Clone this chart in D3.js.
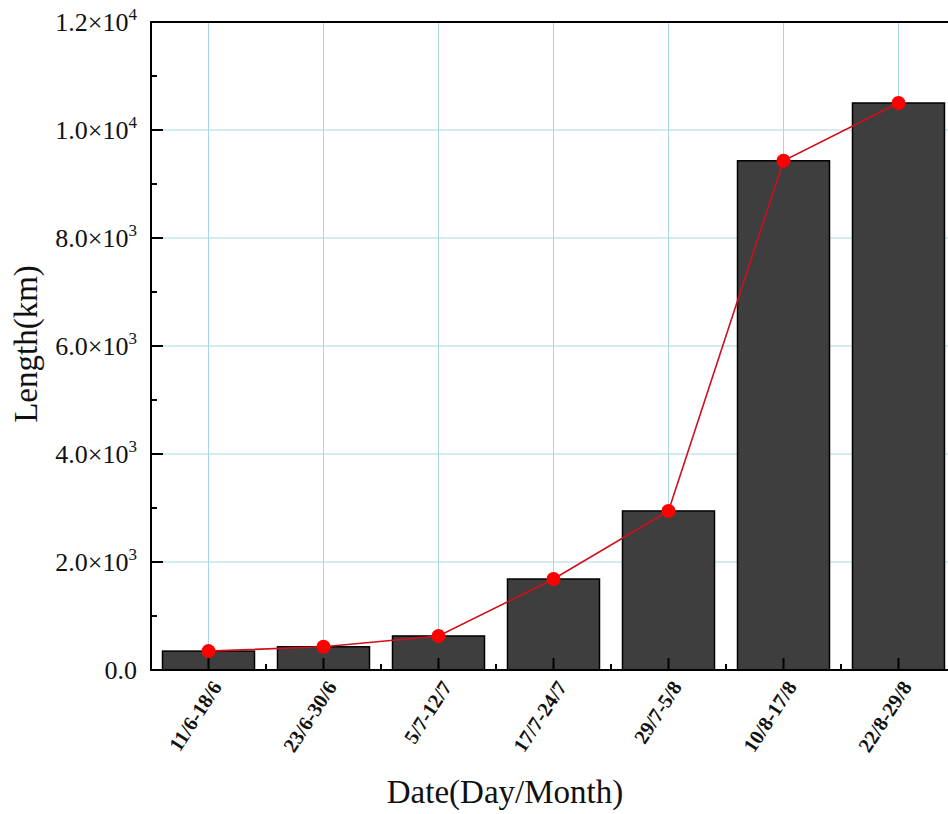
<!DOCTYPE html>
<html>
<head>
<meta charset="utf-8">
<script src="https://cdn.jsdelivr.net/npm/d3@7"></script>
<style>
  body { margin: 0; background: #fff; }
  svg { display: block; font-family: "Liberation Serif", "Times New Roman", serif; }
</style>
</head>
<body>
<div id="chart"></div>
<script>
// Data
var categories = ["11/6-18/6", "23/6-30/6", "5/7-12/7", "17/7-24/7", "29/7-5/8", "10/8-17/8", "22/8-29/8"];
var lengths = [350, 430, 630, 1685, 2945, 9430, 10500];
var yMajorTicks = [0, 2000, 4000, 6000, 8000, 10000, 12000];
var yMinorTicks = [1000, 3000, 5000, 7000, 9000, 11000];

var width = 948, height = 814;
var plotLeft = 151, plotTop = 22, plotBottom = 670, plotRight = 956;

var svg = d3.select("#chart").append("svg")
  .attr("width", width)
  .attr("height", height);

var x = d3.scaleBand()
  .domain(categories)
  .range([plotLeft, plotRight])
  .paddingInner(0.2)
  .paddingOuter(0.1);

var y = d3.scaleLinear()
  .domain([0, 12000])
  .range([plotBottom, plotTop]);

var step = x.step();
var cx = function(d) { return x(d) + x.bandwidth() / 2; };

// grid lines
var grid = svg.append("g").attr("stroke", "#a9d6e5").attr("stroke-width", 1);
grid.selectAll(".hg")
  .data(yMajorTicks.filter(function(t) { return t > 0 && t < 12000; }))
  .enter().append("line")
  .attr("x1", plotLeft).attr("x2", plotRight)
  .attr("y1", function(d) { return y(d); })
  .attr("y2", function(d) { return y(d); });
grid.selectAll(".vg")
  .data(categories)
  .enter().append("line")
  .attr("x1", cx).attr("x2", cx)
  .attr("y1", plotTop).attr("y2", plotBottom);

// bars
svg.append("g").selectAll("rect")
  .data(categories)
  .enter().append("rect")
  .attr("x", function(d) { return x(d); })
  .attr("width", x.bandwidth())
  .attr("y", function(d, i) { return y(lengths[i]); })
  .attr("height", function(d, i) { return plotBottom - y(lengths[i]); })
  .attr("fill", "#3e3e3e")
  .attr("stroke", "#000")
  .attr("stroke-width", 1.5);

// line + points
var line = d3.line()
  .x(function(d, i) { return cx(categories[i]); })
  .y(function(d) { return y(d); });

svg.append("path")
  .datum(lengths)
  .attr("d", line)
  .attr("fill", "none")
  .attr("stroke", "#d0101a")
  .attr("stroke-width", 1.6);

svg.append("g").selectAll("circle")
  .data(lengths)
  .enter().append("circle")
  .attr("cx", function(d, i) { return cx(categories[i]); })
  .attr("cy", function(d) { return y(d); })
  .attr("r", 7)
  .attr("fill", "#ff0000");

// frame
var frame = svg.append("g").attr("stroke", "#000").attr("stroke-width", 2).attr("fill", "none");
frame.append("line").attr("x1", plotLeft).attr("x2", plotRight).attr("y1", plotTop).attr("y2", plotTop);
frame.append("line").attr("x1", plotLeft).attr("x2", plotRight).attr("y1", plotBottom).attr("y2", plotBottom);
frame.append("line").attr("x1", plotLeft).attr("x2", plotLeft).attr("y1", plotTop - 1).attr("y2", plotBottom + 1);
frame.append("line").attr("x1", plotRight).attr("x2", plotRight).attr("y1", plotTop).attr("y2", plotBottom);

// y axis ticks (inward)
frame.selectAll(".ymaj")
  .data(yMajorTicks)
  .enter().append("line")
  .attr("x1", plotLeft).attr("x2", plotLeft + 12)
  .attr("y1", function(d) { return y(d); })
  .attr("y2", function(d) { return y(d); });
frame.selectAll(".ymin")
  .data(yMinorTicks)
  .enter().append("line")
  .attr("x1", plotLeft).attr("x2", plotLeft + 6)
  .attr("y1", function(d) { return y(d); })
  .attr("y2", function(d) { return y(d); });

// x axis ticks (inward)
frame.selectAll(".xmaj")
  .data(categories)
  .enter().append("line")
  .attr("x1", cx).attr("x2", cx)
  .attr("y1", plotBottom).attr("y2", plotBottom - 12);
frame.selectAll(".xmin")
  .data(categories.slice(1))
  .enter().append("line")
  .attr("x1", function(d) { return x(d) - step * 0.1; })
  .attr("x2", function(d) { return x(d) - step * 0.1; })
  .attr("y1", plotBottom).attr("y2", plotBottom - 6);

// y tick labels
var ylab = svg.append("g").selectAll("text")
  .data(yMajorTicks)
  .enter().append("text")
  .attr("x", 137)
  .attr("y", function(d) { return y(d) + 9; })
  .attr("text-anchor", "end")
  .attr("font-size", 26)
  .attr("fill", "#111");
ylab.each(function(d) {
  var t = d3.select(this);
  if (d === 0) { t.text("0.0"); return; }
  var exp = Math.floor(Math.log10(d));
  var mant = (d / Math.pow(10, exp)).toFixed(1);
  t.append("tspan").text(mant + "×10");
  t.append("tspan").attr("dy", -11).attr("font-size", 17).text(exp);
});

// x tick labels
svg.append("g").selectAll("text")
  .data(categories)
  .enter().append("text")
  .attr("transform", function(d) { return "translate(" + (cx(d) + 8) + "," + (plotBottom + 13) + ") rotate(-57)"; })
  .attr("text-anchor", "end")
  .attr("dy", "0.35em")
  .attr("font-size", 20.5)
  .attr("font-weight", "bold")
  .attr("fill", "#111")
  .text(function(d) { return d; });

// axis titles
svg.append("text")
  .attr("x", 505).attr("y", 803)
  .attr("text-anchor", "middle")
  .attr("font-size", 33)
  .attr("fill", "#111")
  .text("Date(Day/Month)");

svg.append("text")
  .attr("transform", "translate(37,344) rotate(-90)")
  .attr("text-anchor", "middle")
  .attr("font-size", 33)
  .attr("fill", "#111")
  .text("Length(km)");
</script>
</body>
</html>
